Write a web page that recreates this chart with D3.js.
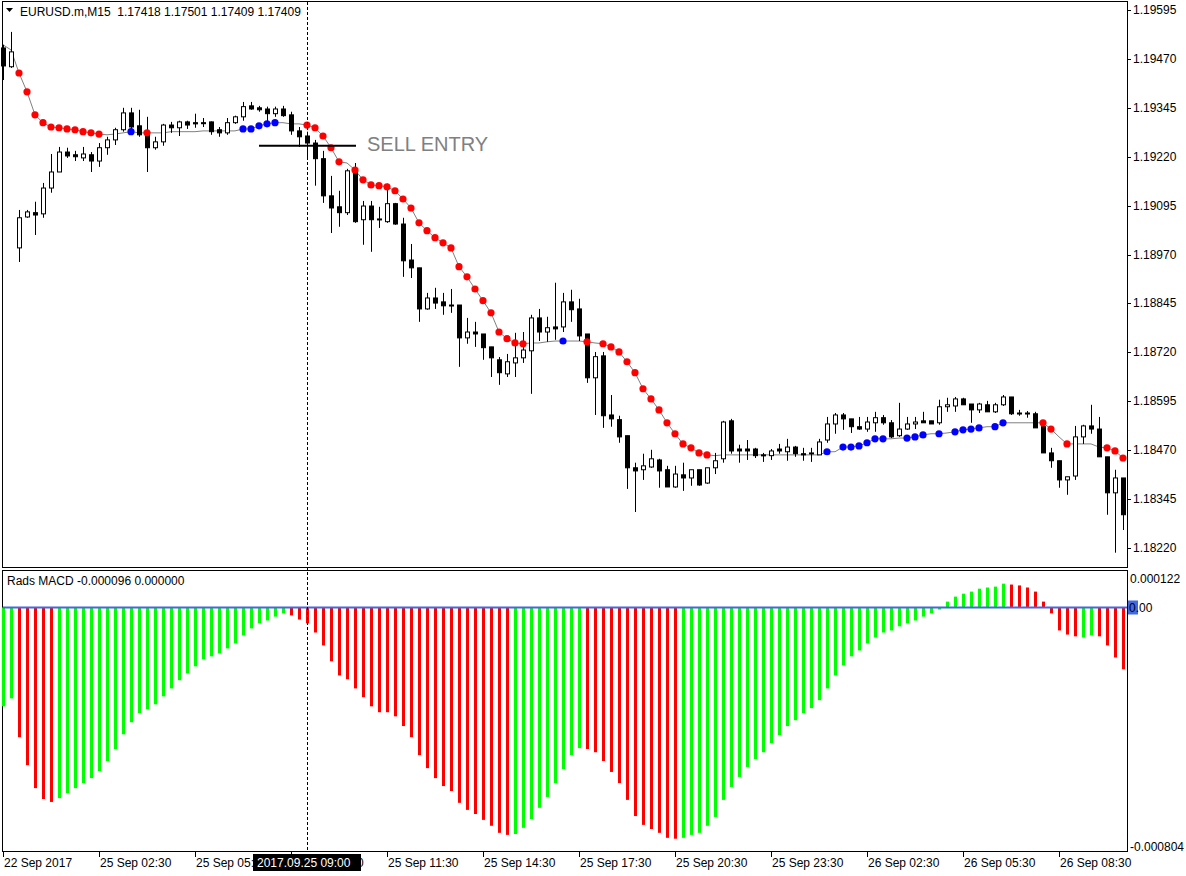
<!DOCTYPE html>
<html><head><meta charset="utf-8">
<script src="https://cdn.jsdelivr.net/npm/d3@7"></script>
<style>body{margin:0;background:#fff}svg{display:block}text{font-family:"Liberation Sans",Arial,sans-serif}</style>
</head><body><svg id="c" width="1186" height="876"></svg>
<script>
// prices in points (1e-5) above 1.16000
const BASE = 1.16;
const open  = [3498,3450,2987,3066,3077,3074,3140,3181,3232,3225,3217,3225,3209,3243,3263,3289,3332,3299,3281,3243,3258,3301,3294,3309,3307,3307,3309,3289,3281,3307,3322,3350,3345,3342,3330,3342,3327,3286,3273,3255,3215,3120,3092,3077,3184,3059,3094,3061,3054,3100,3048,2956,2936,2831,2859,2849,2841,2841,2757,2772,2767,2734,2701,2665,2693,2706,2724,2808,2772,2785,2785,2849,2831,2767,2655,2711,2560,2548,2507,2425,2420,2427,2445,2420,2376,2407,2399,2420,2386,2425,2448,2545,2473,2473,2473,2458,2456,2473,2466,2478,2461,2463,2458,2496,2537,2560,2550,2530,2524,2540,2553,2540,2507,2524,2537,2545,2545,2540,2581,2583,2601,2588,2573,2586,2568,2586,2606,2565,2565,2563,2530,2463,2443,2394,2404,2504,2532,2524,2453,2361,2399];
const high  = [3506,3539,3084,3084,3105,3153,3227,3245,3243,3235,3245,3232,3255,3271,3294,3345,3345,3340,3322,3271,3304,3309,3312,3312,3330,3319,3310,3296,3319,3325,3360,3360,3350,3348,3348,3350,3335,3296,3284,3263,3235,3171,3133,3189,3204,3107,3107,3092,3151,3102,3064,2997,2936,2872,2885,2872,2882,2841,2808,2798,2767,2734,2708,2716,2770,2772,2816,2831,2811,2898,2872,2880,2857,2767,2721,2721,2611,2558,2507,2438,2461,2471,2448,2430,2430,2438,2420,2420,2425,2463,2545,2550,2484,2496,2476,2463,2473,2486,2499,2481,2476,2476,2499,2555,2565,2565,2550,2555,2555,2568,2560,2547,2591,2555,2555,2568,2545,2599,2604,2606,2604,2588,2591,2596,2591,2611,2606,2573,2570,2568,2540,2476,2443,2402,2532,2535,2586,2555,2453,2420,2399];
const low   = [3416,3447,2951,3064,3020,3064,3128,3181,3217,3209,3209,3181,3194,3225,3250,3284,3281,3271,3181,3238,3248,3281,3273,3291,3294,3296,3276,3271,3276,3304,3312,3340,3335,3304,3322,3322,3276,3245,3212,3146,3102,3025,3041,3071,3051,2995,2977,3038,3051,3046,2913,2910,2798,2829,2831,2816,2821,2683,2742,2734,2701,2657,2637,2657,2657,2693,2614,2749,2747,2752,2772,2798,2749,2642,2560,2527,2530,2489,2371,2312,2394,2425,2374,2376,2374,2366,2379,2379,2384,2409,2438,2461,2438,2445,2450,2440,2445,2461,2443,2453,2443,2440,2458,2489,2512,2522,2514,2522,2517,2517,2535,2501,2504,2522,2524,2540,2537,2535,2568,2568,2586,2540,2565,2568,2565,2583,2560,2558,2553,2527,2463,2425,2374,2356,2394,2486,2512,2453,2305,2208,2266];
const close = [3452,3488,3064,3079,3071,3140,3181,3232,3222,3220,3227,3209,3243,3263,3289,3332,3296,3276,3243,3258,3301,3294,3309,3301,3304,3306,3284,3281,3307,3322,3348,3342,3340,3330,3342,3325,3286,3271,3255,3215,3120,3089,3077,3184,3054,3094,3059,3061,3100,3048,2954,2936,2831,2859,2846,2839,2841,2757,2772,2767,2732,2706,2668,2696,2706,2726,2808,2772,2783,2780,2849,2829,2762,2655,2709,2558,2550,2504,2425,2417,2430,2448,2417,2376,2409,2399,2420,2381,2425,2443,2542,2468,2468,2468,2456,2456,2468,2468,2478,2461,2458,2463,2491,2537,2560,2550,2530,2524,2542,2553,2540,2504,2524,2537,2542,2540,2537,2581,2586,2601,2586,2573,2588,2568,2586,2606,2563,2565,2565,2527,2463,2443,2394,2402,2504,2532,2524,2453,2361,2399,2305];
const maLine = [3506,3493,3434,3386,3327,3307,3296,3294,3291,3289,3284,3281,3278,3276,3278,3281,3284,3281,3281,3281,3281,3284,3284,3284,3284,3286,3286,3286,3286,3286,3291,3291,3299,3304,3307,3307,3304,3304,3301,3294,3273,3243,3207,3204,3186,3161,3148,3146,3143,3133,3112,3089,3051,3031,3013,3000,2987,2939,2913,2882,2852,2821,2772,2755,2744,2742,2744,2744,2747,2749,2749,2749,2749,2747,2744,2742,2734,2721,2696,2668,2627,2601,2573,2540,2512,2486,2476,2463,2458,2456,2458,2458,2458,2458,2458,2458,2458,2458,2458,2458,2458,2458,2458,2466,2466,2478,2478,2481,2489,2499,2499,2499,2501,2501,2504,2509,2512,2512,2514,2517,2522,2524,2527,2530,2530,2540,2540,2540,2540,2540,2540,2524,2504,2486,2486,2486,2486,2478,2476,2468,2450];
// trend dot runs: r = down, b = up, - = none
const maDotRuns = [["-",2],["r",11],["-",3],["b",1],["-",1],["r",1],["-",11],["b",5],["-",3],["r",5],["-",1],["r",22],["-",4],["b",1],["-",2],["r",1],["-",1],["r",14],["-",14],["b",1],["-",1],["b",6],["-",2],["b",3],["-",1],["b",1],["-",1],["b",4],["-",1],["b",2],["-",4],["r",2],["-",1],["r",1],["-",4],["r",3]];
// MACD histogram in 1e-6
const macd = [-336,-309,-441,-536,-614,-651,-661,-648,-631,-614,-597,-580,-556,-522,-481,-431,-390,-359,-346,-329,-302,-275,-247,-224,-200,-176,-166,-156,-139,-122,-95,-71,-54,-44,-31,-20,-27,-41,-54,-85,-129,-183,-231,-244,-275,-305,-336,-356,-356,-370,
 -403,-441,-502,-546,-580,-607,-624,-664,-688,-702,-722,-742,-766,-773,-770,-749,-719,-681,-644,-597,-549,-502,-478,-481,-492,-522,-559,-597,-654,-709,-739,-753,-766,-783,-786,-783,-773,-766,-742,-712,-654,-610,-576,-542,-515,-492,-461,-434,-403,-383,-359,-342,-315,-275,-231,-197,-166,-146,-122,-102,-85,-78,-64,-54,-44,-31,-20,-7,
 20,37,47,54,64,68,71,81,78,75,68,54,20,-20,-78,-92,-98,-102,-95,-98,-129,-170,-210];
const macdDirRuns = [["g",2],["r",5],["g",29],["r",28],["g",9],["r",12],["g",41],["r",9],["g",2],["r",4]];
const priceTicks = [1.18220,1.18345,1.18470,1.18595,1.18720,1.18845,1.18970,1.19095,1.19220,1.19345,1.19470,1.19595];
const timeTicks = [[0,"22 Sep 2017"],[12,"25 Sep 02:30"],[24,"25 Sep 05:30"],[36,"25 Sep 08:30"],[48,"25 Sep 11:30"],[60,"25 Sep 14:30"],[72,"25 Sep 17:30"],[84,"25 Sep 20:30"],[96,"25 Sep 23:30"],[108,"26 Sep 02:30"],[120,"26 Sep 05:30"],[132,"26 Sep 08:30"]];
const crossBar = 38, crossLabel = "2017.09.25 09:00";
const title = "EURUSD.m,M15  1.17418 1.17501 1.17409 1.17409";
const macdTitle = "Rads MACD -0.000096 0.000000";
const macdMax = 0.000122, macdMin = -0.000804;
const sellEntry = {price:1.19248, label:"SELL ENTRY"};

const expand = runs => runs.flatMap(([k,n])=>Array(n).fill(k));
const maDots = expand(maDotRuns), macdDir = expand(macdDirRuns);
const P = v => BASE + v/1e5;
const svg = d3.select("#c");
const R = 1127, L = 2;
const x = d3.scaleLinear().domain([0,140]).range([3,1123]);
const y = d3.scaleLinear().domain([1.18220,1.19595]).range([548,10]);
const ym = d3.scaleLinear().domain([macdMin,0]).range([844,607.5]);

svg.append("rect").attr("x",L+0.5).attr("y",1.5).attr("width",R-L).attr("height",566).attr("fill","none").attr("stroke","#000");
svg.append("rect").attr("x",L+0.5).attr("y",570.5).attr("width",R-L).attr("height",281).attr("fill","none").attr("stroke","#000");

const pa = svg.append("g");
priceTicks.forEach(t=>{
  pa.append("line").attr("x1",R).attr("x2",R+4).attr("y1",Math.round(y(t))+0.5).attr("y2",Math.round(y(t))+0.5).attr("stroke","#000");
  pa.append("text").attr("x",1133).attr("y",y(t)+4).attr("font-size",12).text(t.toFixed(5));
});
timeTicks.forEach(([i,s])=>{
  svg.append("line").attr("x1",Math.round(x(i))+0.5).attr("x2",Math.round(x(i))+0.5).attr("y1",852).attr("y2",857).attr("stroke","#000");
  if (i!==36) svg.append("text").attr("x",x(i)+1).attr("y",867).attr("font-size",12).text(s);
});

const idx = d3.range(open.length);
svg.append("path").attr("d",d3.line().x(i=>x(i)).y(i=>y(P(maLine[i])))(idx)).attr("fill","none").attr("stroke","#808080").attr("stroke-width",1);

const cg = svg.append("g");
idx.forEach(i=>{
  const cx = Math.round(x(i))+0.5;
  const o=y(P(open[i])), c=y(P(close[i])), h=y(P(high[i])), l=y(P(low[i]));
  cg.append("line").attr("x1",cx).attr("x2",cx).attr("y1",h).attr("y2",l).attr("stroke","#000");
  const top=Math.min(o,c), bh=Math.max(1,Math.abs(o-c));
  const up = close[i]>=open[i];
  cg.append("rect").attr("x",cx-2).attr("y",top).attr("width",4).attr("height",bh)
    .attr("fill",up?"#fff":"#000").attr("stroke","#000").attr("stroke-width",1);
});
idx.filter(i=>maDots[i]!=="-").forEach(i=>{
  svg.append("circle").attr("cx",x(i)).attr("cy",y(P(maLine[i]))).attr("r",3.6).attr("fill",maDots[i]==="r"?"#ff0000":"#0000ff");
});

svg.append("line").attr("x1",259).attr("x2",356).attr("y1",y(sellEntry.price)).attr("y2",y(sellEntry.price)).attr("stroke","#000").attr("stroke-width",2);
svg.append("text").attr("x",367).attr("y",y(sellEntry.price)+5).attr("font-size",20).attr("fill","#808080").text(sellEntry.label);

idx.forEach(i=>{
  const v = macd[i]/1e6;
  const y0 = ym(0), y1 = ym(v);
  svg.append("rect").attr("x",Math.round(x(i))-1).attr("width",3).attr("y",Math.min(y0,y1)).attr("height",Math.abs(y1-y0))
    .attr("fill",macdDir[i]==="g"?"#00ff00":"#ff0000");
});
svg.append("line").attr("x1",L+1).attr("x2",R).attr("y1",ym(0)).attr("y2",ym(0)).attr("stroke","#4169e1").attr("stroke-width",2);
svg.append("text").attr("x",1130).attr("y",583).attr("font-size",12).text(macdMax.toFixed(6));
svg.append("rect").attr("x",1128).attr("y",ym(0)-7).attr("width",10).attr("height",14).attr("fill","#4169e1");
svg.append("text").attr("x",1129).attr("y",ym(0)+4.5).attr("font-size",12).text("0.00");
svg.append("text").attr("x",1130).attr("y",ym(macdMin)+7).attr("font-size",12).text(macdMin.toFixed(6));

svg.append("path").attr("d","M6,8 L13,8 L9.5,12 Z").attr("fill","#000");
svg.append("text").attr("x",20).attr("y",16).attr("font-size",12).style("white-space","pre").text(title);
svg.append("text").attr("x",7).attr("y",585).attr("font-size",12).text(macdTitle);

const cxh = Math.round(x(crossBar))+0.5;
svg.append("line").attr("x1",cxh).attr("x2",cxh).attr("y1",2).attr("y2",852).attr("stroke","#000").attr("stroke-dasharray","3,2");
svg.append("rect").attr("x",253).attr("y",854).attr("width",108).attr("height",17).attr("fill","#000");
svg.append("text").attr("x",257).attr("y",867).attr("font-size",12).attr("fill","#fff").text(crossLabel);
svg.append("text").attr("x",357).attr("y",867).attr("font-size",12).text("0");
</script></body></html>
